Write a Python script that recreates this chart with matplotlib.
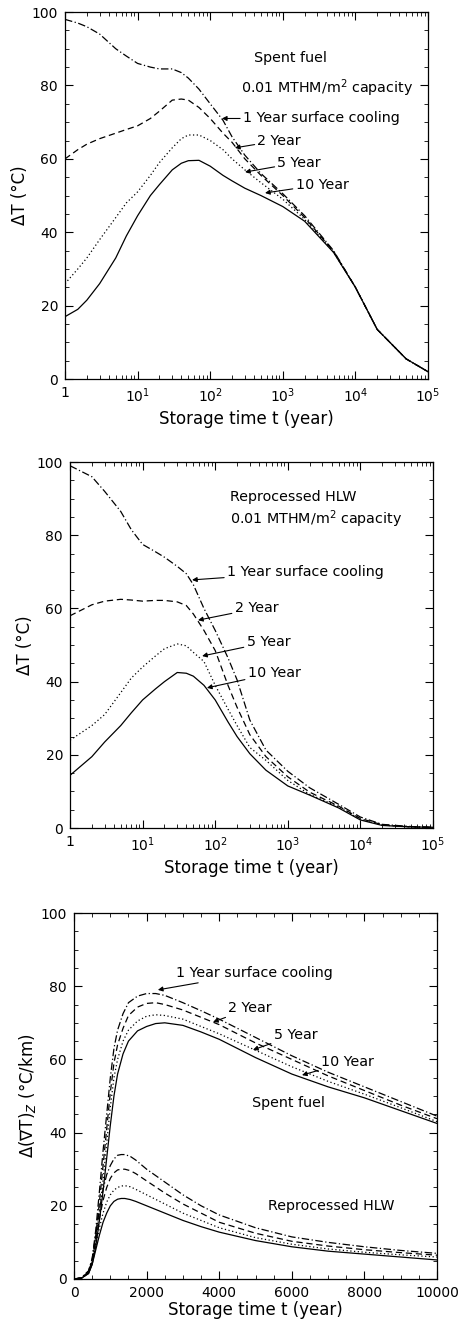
import matplotlib
matplotlib.use("Agg")
import matplotlib.pyplot as plt
from matplotlib.ticker import MultipleLocator, LogLocator, NullFormatter

plt.rcParams["font.family"] = ["DejaVu Sans"]

# panel 1: spent fuel, log time
t_sf = [1, 1.5, 2, 3, 5, 7, 10, 15, 20, 30, 40, 50, 70, 100, 150, 200, 300, 500,
        1000, 2000, 5000, 10000, 20000, 50000, 100000]
sf_1yr = [98, 97, 96, 94, 90, 88, 86, 85, 84.5, 84.5, 83.5, 82, 79, 75, 70.5, 66, 61, 56,
          50.5, 44.5, 35, 25, 13.5, 5.5, 2]
sf_2yr = [60, 62.5, 64, 65.5, 67, 68, 69, 71, 73, 76, 76.3, 76, 74, 71, 67, 64.5, 60, 55.5,
          50, 44, 34.8, 25, 13.5, 5.5, 2]
sf_5yr = [26, 30, 33, 38, 44, 48, 51, 55.5, 59, 63, 65.5, 66.5, 66.5, 65, 62.5, 60, 57, 53.5,
          49, 43.5, 34.6, 25, 13.5, 5.5, 2]
sf_10yr = [17, 19, 21.5, 26, 33, 39, 44.5, 50, 53, 57, 58.8, 59.5, 59.6, 58, 55.5, 54, 52, 50,
           47, 43, 34.5, 25, 13.5, 5.5, 2]

# panel 2: reprocessed HLW, log time
t_hlw = [1, 2, 3, 5, 7, 10, 15, 20, 30, 40, 50, 70, 100, 150, 200, 300, 500,
         1000, 2000, 5000, 10000, 20000, 50000, 100000]
hlw_1yr = [99, 96, 92, 86.5, 81.5, 77.5, 75.5, 74, 71.5, 69.5, 66.5, 60, 54, 46.5, 40.5, 29.5, 21.3,
           15.5, 11, 6.5, 3, 1, 0.4, 0.2]
hlw_2yr = [58, 61, 62, 62.5, 62.3, 62, 62.2, 62.2, 61.8, 60.8, 58.5, 54, 48.5, 39, 33, 25.5, 19.5,
           14, 9.8, 6, 2.6, 0.9, 0.3, 0.2]
hlw_5yr = [24, 28, 31, 37, 41, 44, 47, 49, 50.3, 49.8, 48, 45.5, 39, 32.5, 28, 22, 18.5,
           13, 9.2, 5.8, 2.4, 0.8, 0.3, 0.2]
hlw_10yr = [14.4, 19.5, 23.5, 28, 31.5, 35, 38, 40, 42.5, 42.3, 41.5, 39, 35, 29, 25, 20.3, 15.8,
            11.5, 9, 5.5, 2.2, 0.7, 0.3, 0.2]

# panel 3: vertical gradient change, linear time
t_g = [0, 200, 400, 500, 600, 700, 800, 900, 1000, 1100, 1200, 1350, 1500, 1750, 2000, 2250,
       2500, 3000, 3500, 4000, 5000, 6000, 7000, 8000, 9000, 10000]
gsf_1yr = [0, 0.3, 2.2, 5.5, 13.5, 24, 35, 45, 55, 63, 68, 72.5, 75.5, 77.3, 78, 78,
           77.5, 75.5, 73.3, 71, 66, 61, 56.5, 52.5, 48.5, 44.5]
gsf_2yr = [0, 0.2, 1.9, 5, 12, 21, 31, 41, 51, 59, 64, 68.5, 72, 74.3, 75.3, 75.5,
           75, 73.5, 71.5, 69.5, 64.5, 60, 55.5, 51.5, 47.5, 43.8]
gsf_5yr = [0, 0.2, 1.7, 4.5, 10.5, 18.5, 27, 37, 47, 55, 60, 65, 68, 70.5, 71.8, 72.2,
           72, 71, 69, 67, 62.5, 58, 54, 50.5, 46.8, 43]
gsf_10yr = [0, 0.2, 1.5, 4, 9, 16, 24, 33, 42, 50, 56, 61.5, 65, 67.8, 69, 69.8,
            70, 69.3, 67.5, 65.5, 60.5, 56, 52.5, 49.5, 46, 42.5]

t_gh = [0, 200, 400, 500, 600, 700, 800, 900, 1000, 1100, 1200, 1300, 1400, 1550, 1700, 2000,
        2500, 3000, 3500, 4000, 5000, 6000, 7000, 8000, 9000, 10000]
ghlw_1yr = [0, 0.3, 2.2, 5.5, 12, 19, 24.5, 28.5, 31, 32.8, 33.8, 34, 34, 33.5, 32.5, 30,
            26.5, 23, 20, 17.5, 14, 11.5, 10, 8.8, 7.8, 7]
ghlw_2yr = [0, 0.3, 1.9, 5, 10.5, 16.5, 21.5, 25, 27.5, 29, 29.8, 30, 30, 29.6, 28.8, 26.8,
            23.5, 20.5, 18, 15.5, 12.5, 10.3, 9, 8, 7.2, 6.5]
ghlw_5yr = [0, 0.2, 1.7, 4.5, 9, 14, 18, 21, 23, 24.3, 25, 25.4, 25.5, 25.2, 24.5, 23,
            20.5, 18, 16, 14, 11.3, 9.5, 8.2, 7.3, 6.6, 6]
ghlw_10yr = [0, 0.2, 1.5, 4, 8, 12, 15.5, 18, 20, 21.2, 21.8, 22, 22, 21.7, 21.2, 20,
             18, 16, 14.3, 12.8, 10.5, 8.8, 7.6, 6.8, 6, 5.2]

styles = [(0, (6, 2, 1, 2)), (0, (5, 3)), (0, (1, 2)), "-"]
lw = 0.9

fig = plt.figure(figsize=(4.67, 13.24), dpi=100)
ax1 = fig.add_axes([0.1392, 0.7137, 0.7773, 0.2772])
ax2 = fig.add_axes([0.1499, 0.3746, 0.7773, 0.2764])
ax3 = fig.add_axes([0.1585, 0.0340, 0.7773, 0.2764])


def style_axes(ax):
    ax.tick_params(which="both", direction="in", top=True, right=True,
                   labelsize=10, pad=5)
    ax.tick_params(which="major", length=6, width=0.8)
    ax.tick_params(which="minor", length=3, width=0.6)
    for s in ax.spines.values():
        s.set_linewidth(0.9)


def log_panel(ax, t, series):
    for y, ls in zip(series, styles):
        ax.plot(t, y, color="black", lw=lw, linestyle=ls)
    ax.set_xscale("log")
    ax.set_xlim(1, 1e5)
    ax.set_ylim(0, 100)
    ax.set_xticks([1, 10, 100, 1000, 10000, 100000],
                  labels=["1", "$10^1$", "$10^2$", "$10^3$", "$10^4$", "$10^5$"])
    ax.xaxis.set_minor_locator(LogLocator(base=10, subs=range(2, 10), numticks=20))
    ax.xaxis.set_minor_formatter(NullFormatter())
    ax.yaxis.set_major_locator(MultipleLocator(20))
    ax.yaxis.set_minor_locator(MultipleLocator(5))
    ax.set_xlabel("Storage time t (year)", fontsize=12, labelpad=4)
    ax.set_ylabel("ΔT (°C)", fontsize=12, labelpad=2)
    style_axes(ax)


arrow = dict(arrowstyle="-|>", color="black", lw=0.8, mutation_scale=7, shrinkA=0, shrinkB=0)
fs = 10.3

# panel 1
log_panel(ax1, t_sf, [sf_1yr, sf_2yr, sf_5yr, sf_10yr])
ax1.text(0.52, 0.865, "Spent fuel", transform=ax1.transAxes, fontsize=fs)
ax1.text(0.485, 0.78, "0.01 MTHM/m$^2$ capacity", transform=ax1.transAxes, fontsize=fs)
ax1.annotate("1 Year surface cooling", xy=(145, 71), xytext=(0.49, 0.71),
             textcoords="axes fraction", fontsize=fs, va="center", arrowprops=arrow)
ax1.annotate("2 Year", xy=(219, 63), xytext=(0.53, 0.65),
             textcoords="axes fraction", fontsize=fs, va="center", arrowprops=arrow)
ax1.annotate("5 Year", xy=(302, 56.4), xytext=(0.585, 0.59),
             textcoords="axes fraction", fontsize=fs, va="center", arrowprops=arrow)
ax1.annotate("10 Year", xy=(569, 50.7), xytext=(0.635, 0.53),
             textcoords="axes fraction", fontsize=fs, va="center", arrowprops=arrow)

# panel 2
log_panel(ax2, t_hlw, [hlw_1yr, hlw_2yr, hlw_5yr, hlw_10yr])
ax2.text(0.44, 0.895, "Reprocessed HLW", transform=ax2.transAxes, fontsize=fs)
ax2.text(0.44, 0.83, "0.01 MTHM/m$^2$ capacity", transform=ax2.transAxes, fontsize=fs)
ax2.annotate("1 Year surface cooling", xy=(48, 67.8), xytext=(145, 70),
             fontsize=fs, va="center", arrowprops=arrow)
ax2.annotate("2 Year", xy=(58, 56.8), xytext=(185, 60),
             fontsize=fs, va="center", arrowprops=arrow)
ax2.annotate("5 Year", xy=(66, 47), xytext=(270, 50.8),
             fontsize=fs, va="center", arrowprops=arrow)
ax2.annotate("10 Year", xy=(77, 38.3), xytext=(280, 42.3),
             fontsize=fs, va="center", arrowprops=arrow)

# panel 3
for y, ls in zip([gsf_1yr, gsf_2yr, gsf_5yr, gsf_10yr], styles):
    ax3.plot(t_g, y, color="black", lw=lw, linestyle=ls)
for y, ls in zip([ghlw_1yr, ghlw_2yr, ghlw_5yr, ghlw_10yr], styles):
    ax3.plot(t_gh, y, color="black", lw=lw, linestyle=ls)
ax3.set_xlim(0, 10000)
ax3.set_ylim(0, 100)
ax3.xaxis.set_major_locator(MultipleLocator(2000))
ax3.xaxis.set_minor_locator(MultipleLocator(500))
ax3.yaxis.set_major_locator(MultipleLocator(20))
ax3.yaxis.set_minor_locator(MultipleLocator(5))
ax3.set_xlabel("Storage time t (year)", fontsize=12, labelpad=1)
ax3.set_ylabel("Δ(∇T)$_Z$ (°C/km)", fontsize=12, labelpad=2)
style_axes(ax3)
ax3.annotate("1 Year surface cooling", xy=(2310, 79), xytext=(2800, 83.6),
             fontsize=fs, va="center", arrowprops=arrow)
ax3.annotate("2 Year", xy=(3830, 70.2), xytext=(4250, 74),
             fontsize=fs, va="center", arrowprops=arrow)
ax3.annotate("5 Year", xy=(4930, 62.6), xytext=(5500, 66.7),
             fontsize=fs, va="center", arrowprops=arrow)
ax3.annotate("10 Year", xy=(6280, 55.7), xytext=(6800, 59.3),
             fontsize=fs, va="center", arrowprops=arrow)
ax3.text(4900, 48, "Spent fuel", fontsize=fs, va="center")
ax3.text(5350, 20, "Reprocessed HLW", fontsize=fs, va="center")

fig.savefig("out.png", dpi=100)
